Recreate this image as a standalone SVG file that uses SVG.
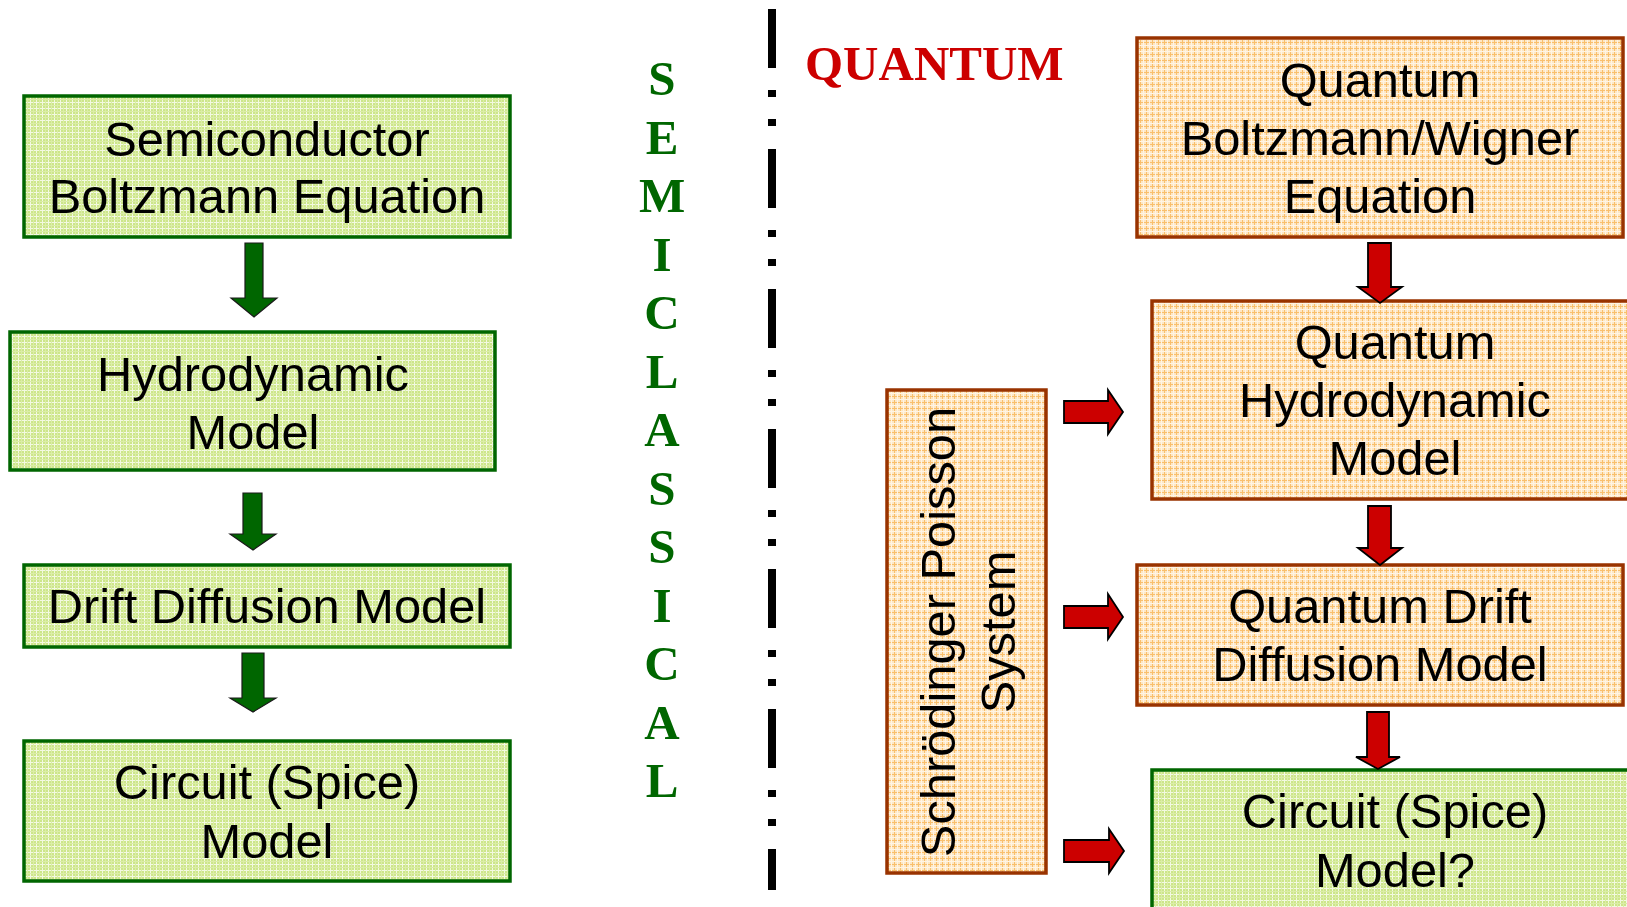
<svg xmlns="http://www.w3.org/2000/svg" width="1627" height="907" viewBox="0 0 1627 907">
<style>
.lbl{font-family:"Liberation Sans",Arial,sans-serif;font-size:48.8px;fill:#000;text-anchor:middle}
.gbox{fill:url(#pg);stroke:#006600;stroke-width:3.5}
.obox{fill:url(#po);stroke:#993300;stroke-width:3.5}
.garr{fill:#006600;stroke:#1a1a1a;stroke-width:1.2}
.rarr{fill:#CC0000;stroke:#000;stroke-width:1.8}
.semi{font-family:"Liberation Serif","Times New Roman",serif;font-weight:bold;font-size:49px;fill:#006600;text-anchor:middle}
</style>
<defs>
<pattern id="pg" width="6" height="6" patternUnits="userSpaceOnUse">
<rect width="6" height="6" fill="#cde68a"/>
<path d="M0 0.5H6M0.5 0V6" stroke="#f3f9e2" stroke-width="1"/>
<path d="M0 3.5H6M3.5 0V6" stroke="#dbeda8" stroke-width="1"/>
</pattern>
<pattern id="po" width="6" height="6" patternUnits="userSpaceOnUse">
<rect width="6" height="6" fill="#fde7c4"/>
<path d="M0 0.5H6M0.5 0V6" stroke="#f9bf6c" stroke-width="1"/>
<path d="M0 3.5H6M3.5 0V6" stroke="#fff4e4" stroke-width="1"/>
</pattern>
</defs>

<g id="divider">
<line x1="772" y1="9" x2="772" y2="890" stroke="#000" stroke-width="8" stroke-dasharray="59 22 7 22 7 23"/>
</g>

<g id="semiclassical-label">
<text class="semi" x="662" y="95">S</text>
<text class="semi" x="662" y="153.5">E</text>
<text class="semi" x="662" y="212">M</text>
<text class="semi" x="662" y="270.5">I</text>
<text class="semi" x="662" y="329">C</text>
<text class="semi" x="662" y="387.5">L</text>
<text class="semi" x="662" y="446">A</text>
<text class="semi" x="662" y="504.5">S</text>
<text class="semi" x="662" y="563">S</text>
<text class="semi" x="662" y="621.5">I</text>
<text class="semi" x="662" y="680">C</text>
<text class="semi" x="662" y="738.5">A</text>
<text class="semi" x="662" y="797">L</text>
</g>

<g id="quantum-label">
<text x="805" y="80" style="font-family:'Liberation Serif','Times New Roman',serif;font-weight:bold;font-size:49px;fill:#CC0000">QUANTUM</text>
</g>

<g id="n-sbe">
<rect class="gbox" x="24" y="96" width="486" height="141"/>
<text class="lbl" x="267" y="156">Semiconductor</text>
<text class="lbl" x="267" y="213">Boltzmann Equation</text>
</g>
<g id="n-hd">
<rect class="gbox" x="10" y="332" width="485" height="138"/>
<text class="lbl" x="253" y="391">Hydrodynamic</text>
<text class="lbl" x="253" y="449">Model</text>
</g>
<g id="n-dd">
<rect class="gbox" x="24" y="565" width="486" height="82"/>
<text class="lbl" x="267" y="623">Drift Diffusion Model</text>
</g>
<g id="n-spice">
<rect class="gbox" x="24" y="741" width="486" height="140"/>
<text class="lbl" x="267" y="799">Circuit (Spice)</text>
<text class="lbl" x="267" y="858">Model</text>
</g>

<g id="n-qbw">
<rect class="obox" x="1137" y="38" width="486" height="199"/>
<text class="lbl" x="1380" y="97">Quantum</text>
<text class="lbl" x="1380" y="155">Boltzmann/Wigner</text>
<text class="lbl" x="1380" y="213">Equation</text>
</g>
<g id="n-qhd">
<rect class="obox" x="1152" y="301" width="486" height="198"/>
<text class="lbl" x="1395" y="359">Quantum</text>
<text class="lbl" x="1395" y="417">Hydrodynamic</text>
<text class="lbl" x="1395" y="475">Model</text>
</g>
<g id="n-qdd">
<rect class="obox" x="1137" y="565" width="486" height="140"/>
<text class="lbl" x="1380" y="623">Quantum Drift</text>
<text class="lbl" x="1380" y="681">Diffusion Model</text>
</g>
<g id="n-qspice">
<rect class="gbox" x="1152" y="770" width="486" height="145"/>
<text class="lbl" x="1395" y="828">Circuit (Spice)</text>
<text class="lbl" x="1395" y="887">Model?</text>
</g>
<g id="n-sp">
<rect class="obox" x="887" y="390" width="159" height="483"/>
<g transform="rotate(-90)">
<text class="lbl" x="-632" y="955">Schrödinger Poisson</text>
<text class="lbl" x="-632" y="1015">System</text>
</g>
</g>

<g id="connectors">
<path class="garr" d="M245 243H263V298H277L254 317L231 298H245Z"/>
<path class="garr" d="M243 493H262V534H276L253 550L230 534H243Z"/>
<path class="garr" d="M242 653H264V698H276L253 712L230 698H242Z"/>
<path class="rarr" d="M1368 243H1391V287H1402L1380 303L1358 287H1368Z"/>
<path class="rarr" d="M1368 506H1391V548H1402L1380 565L1358 548H1368Z"/>
<path class="rarr" d="M1367 712H1389V757H1400L1378 769L1356 757H1367Z"/>
<path class="rarr" d="M1064 401H1108V390L1123 412L1108 434V423H1064Z"/>
<path class="rarr" d="M1064 606H1108V594L1123 617L1108 639V628H1064Z"/>
<path class="rarr" d="M1064 840H1109V829L1124 851L1109 873V862H1064Z"/>
</g>
</svg>
